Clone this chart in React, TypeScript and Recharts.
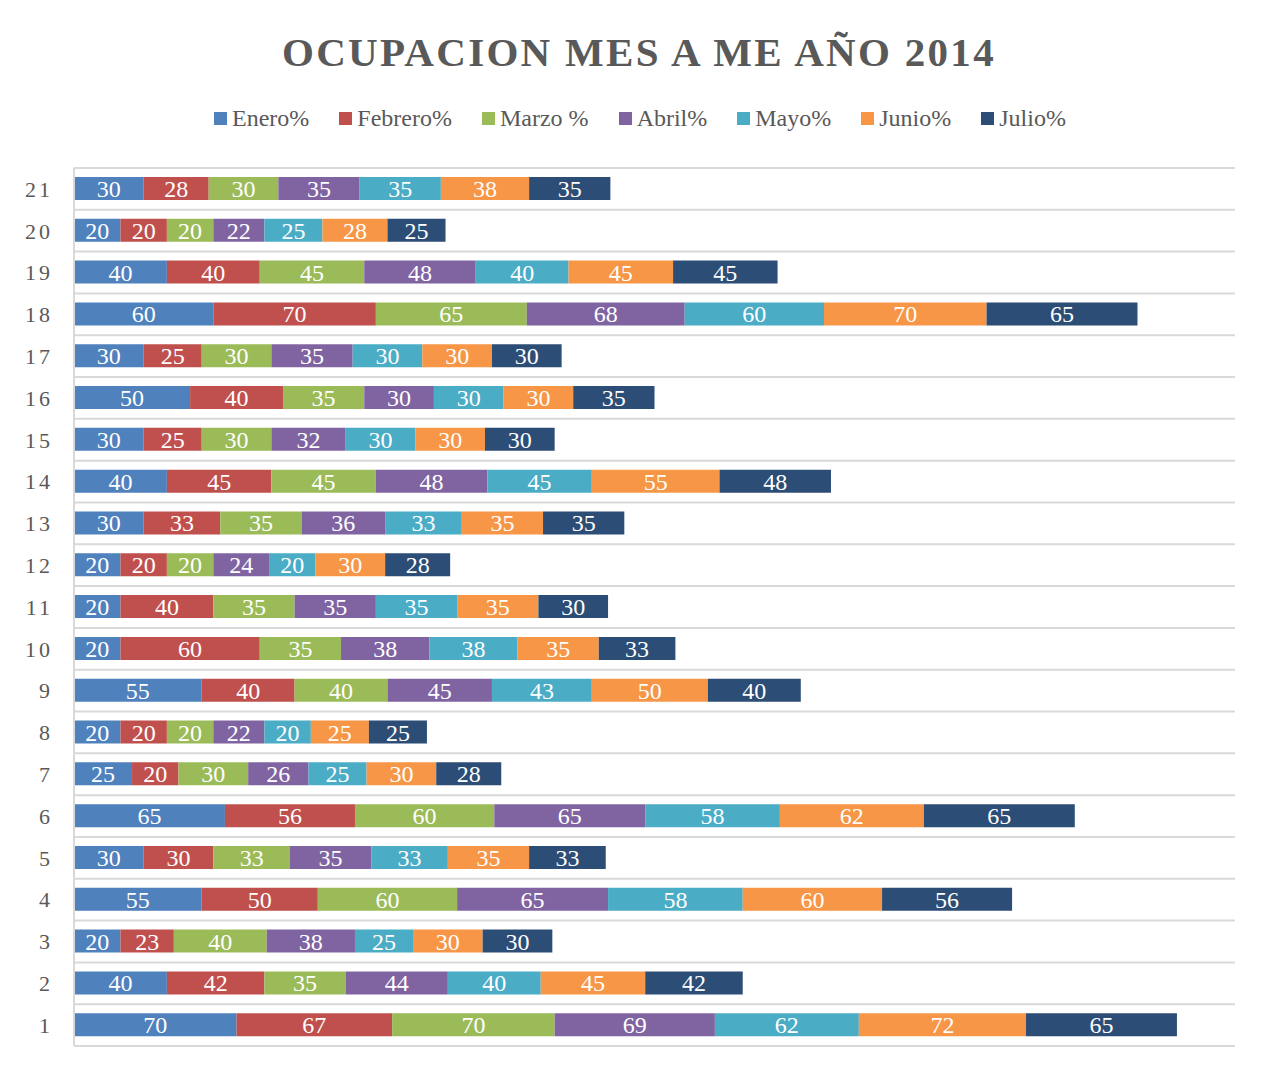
import { BarChart, Bar, XAxis, YAxis, CartesianGrid, LabelList } from 'recharts'

// rows listed from "1" (bottom) to "21" (top)
const dias = ['1', '2', '3', '4', '5', '6', '7', '8', '9', '10', '11', '12', '13', '14', '15', '16', '17', '18', '19', '20', '21']

const enero = [70, 40, 20, 55, 30, 65, 25, 20, 55, 20, 20, 20, 30, 40, 30, 50, 30, 60, 40, 20, 30]
const febrero = [67, 42, 23, 50, 30, 56, 20, 20, 40, 60, 40, 20, 33, 45, 25, 40, 25, 70, 40, 20, 28]
const marzo = [70, 35, 40, 60, 33, 60, 30, 20, 40, 35, 35, 20, 35, 45, 30, 35, 30, 65, 45, 20, 30]
const abril = [69, 44, 38, 65, 35, 65, 26, 22, 45, 38, 35, 24, 36, 48, 32, 30, 35, 68, 48, 22, 35]
const mayo = [62, 40, 25, 58, 33, 58, 25, 20, 43, 38, 35, 20, 33, 45, 30, 30, 30, 60, 40, 25, 35]
const junio = [72, 45, 30, 60, 35, 62, 30, 25, 50, 35, 35, 30, 35, 55, 30, 30, 30, 70, 45, 28, 38]
const julio = [65, 42, 30, 56, 33, 65, 28, 25, 40, 33, 30, 28, 35, 48, 30, 35, 30, 65, 45, 25, 35]

const series = [
  { key: 'enero', name: 'Enero%', values: enero, color: '#4F81BD' },
  { key: 'febrero', name: 'Febrero%', values: febrero, color: '#C0504D' },
  { key: 'marzo', name: 'Marzo %', values: marzo, color: '#9BBB59' },
  { key: 'abril', name: 'Abril%', values: abril, color: '#8064A2' },
  { key: 'mayo', name: 'Mayo%', values: mayo, color: '#4BACC6' },
  { key: 'junio', name: 'Junio%', values: junio, color: '#F79646' },
  { key: 'julio', name: 'Julio%', values: julio, color: '#2C4D75' },
]

const data = dias.map((dia, i) => {
  const row: Record<string, string | number> = { dia }
  series.forEach(s => {
    row[s.key] = s.values[i]
  })
  return row
})

const FONT = '"Liberation Serif", "Times New Roman", serif'
const GRAY = '#595959'
const GRID = '#d9d9d9'

export default function App() {
  return (
    <div
      style={{
        position: 'relative',
        width: 1256,
        height: 1070,
        margin: '-4px 0 0 -2px',
        border: `2px solid ${GRID}`,
        boxSizing: 'border-box',
        background: '#fff',
        fontFamily: FONT,
      }}
    >
      <div
        style={{
          position: 'absolute',
          top: 26,
          left: 0,
          width: 1252,
          textAlign: 'center',
          fontSize: 41,
          lineHeight: '41px',
          fontWeight: 'bold',
          letterSpacing: 2.3,
          color: GRAY,
          paddingLeft: 10,
          boxSizing: 'border-box',
        }}
      >
        OCUPACION MES A ME AÑO 2014
      </div>

      <div
        style={{
          position: 'absolute',
          top: 100,
          left: 0,
          width: 1252,
          paddingLeft: 12,
          boxSizing: 'border-box',
          display: 'flex',
          justifyContent: 'center',
          gap: 30,
          fontSize: 24,
          lineHeight: '24px',
          color: GRAY,
        }}
      >
        {series.map(s => (
          <div key={s.key} style={{ display: 'flex', alignItems: 'center' }}>
            <span style={{ width: 13, height: 13, background: s.color, marginRight: 5 }} />
            <span>{s.name}</span>
          </div>
        ))}
      </div>

      <BarChart
        width={1252}
        height={1060}
        data={data}
        layout="vertical"
        margin={{ top: 162, right: 25, left: 6, bottom: 20 }}
        style={{ fontFamily: FONT }}
      >
        <CartesianGrid
          vertical={false}
          stroke={GRID}
          strokeWidth={2}
          horizontalCoordinatesGenerator={({ offset }) => {
            const step = offset.height / dias.length
            return dias.map((_, i) => offset.top + i * step).concat(offset.top + offset.height)
          }}
        />
        <XAxis type="number" domain={[0, 500]} hide height={0} />
        <YAxis
          type="category"
          dataKey="dia"
          reversed
          width={60}
          axisLine={{ stroke: GRID, strokeWidth: 2 }}
          tickLine={false}
          tickSize={0}
          tickMargin={21}
          interval={0}
          tick={{ fill: GRAY, fontSize: 22, letterSpacing: 3 }}
        />
        {series.map(s => (
          <Bar
            key={s.key}
            dataKey={s.key}
            name={s.name}
            stackId="a"
            fill={s.color}
            barSize={23}
            isAnimationActive={false}
          >
            <LabelList dataKey={s.key} position="center" fill="#ffffff" fontSize={24} />
          </Bar>
        ))}
      </BarChart>
    </div>
  )
}
